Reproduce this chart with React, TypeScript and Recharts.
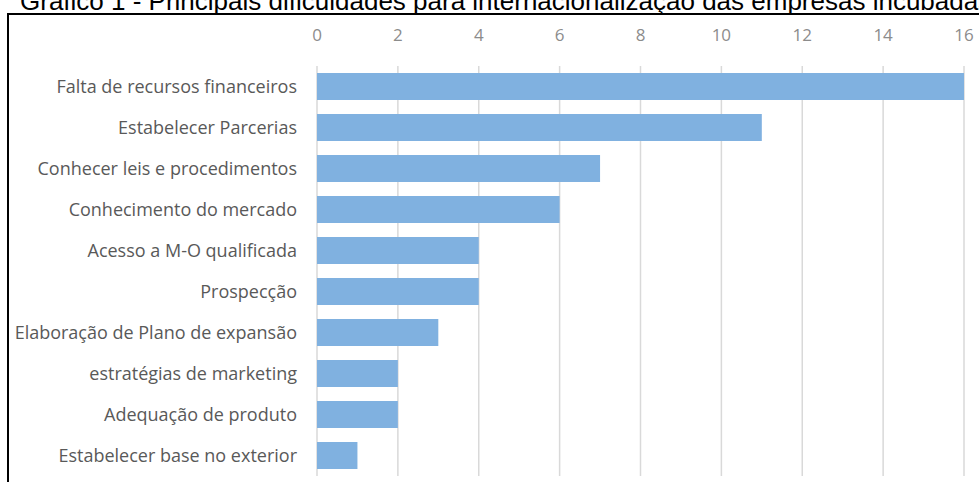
import { BarChart, Bar, XAxis, YAxis, CartesianGrid } from "recharts";

// Dificuldades citadas e número de empresas
const categories = [
  "Falta de recursos financeiros",
  "Estabelecer Parcerias",
  "Conhecer leis e procedimentos",
  "Conhecimento do mercado",
  "Acesso a M-O qualificada",
  "Prospecção",
  "Elaboração de Plano de expansão",
  "estratégias de marketing",
  "Adequação de produto",
  "Estabelecer base no exterior",
];
const counts = [16, 11, 7, 6, 4, 4, 3, 2, 2, 1];
const xTicks = [0, 2, 4, 6, 8, 10, 12, 14, 16];

const data = categories.map((name, i) => ({ name, value: counts[i] }));

const TITLE =
  "Gráfico 1 - Principais dificuldades para internacionalização das empresas incubadas";

export default function App() {
  return (
    <div style={{ position: "absolute", left: 0, top: 0, width: 979, height: 482, overflow: "hidden", background: "#fff" }}>
      {/* title, cut off at the top like the scan */}
      <div
        style={{
          position: "absolute", left: 20, top: -12, whiteSpace: "nowrap",
          fontFamily: "'Liberation Sans', Arial, sans-serif", fontSize: 26, lineHeight: "26px", color: "#000",
        }}
      >
        {TITLE}
      </div>
      {/* frame */}
      <div
        style={{
          position: "absolute", left: 7, top: 13, width: 1000, height: 500,
          borderLeft: "2px solid #000", borderTop: "2px solid #000",
        }}
      />
      <div style={{ position: "absolute", left: 0, top: 0 }}>
        <BarChart
          width={979}
          height={482}
          data={data}
          layout="vertical"
          margin={{ top: 36, right: 15, left: 0, bottom: 6 }}
          barCategoryGap="17%"
        >
          <CartesianGrid horizontal={false} stroke="#d9d9d9" strokeWidth={1.5} />
          <XAxis
            type="number"
            orientation="top"
            domain={[0, 16]}
            ticks={xTicks}
            interval={0}
            height={30}
            axisLine={false}
            tickLine={false}
            tickMargin={19}
            tick={{ fontSize: 17, fill: "#8c8c8c", fontFamily: "'Open Sans', sans-serif" }}
          />
          <YAxis
            type="category"
            dataKey="name"
            width={317}
            axisLine={false}
            tickLine={false}
            interval={0}
            tickMargin={14}
            tick={{ fontSize: 18, fill: "#595959", fontFamily: "'Open Sans', sans-serif" }}
          />
          <Bar dataKey="value" fill="#80b1e0" isAnimationActive={false} />
        </BarChart>
      </div>
    </div>
  );
}
